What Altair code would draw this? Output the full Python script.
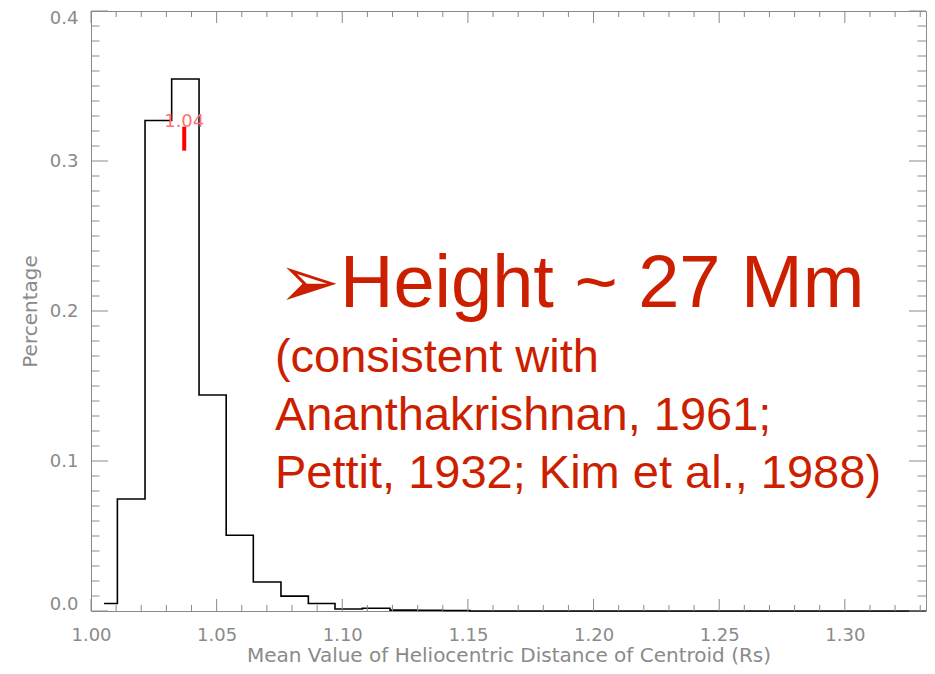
import altair as alt
import pandas as pd

# Histogram (step line): left edges of each step and the value held until the next edge
edges = [1.0052, 1.0105, 1.0215, 1.0321, 1.0430, 1.0538, 1.0646, 1.0756,
         1.0865, 1.0971, 1.1080, 1.1190, 1.1296, 1.1402, 1.1508, 1.3323]
values = [0.0050, 0.0747, 0.3270, 0.3547, 0.1440, 0.0505, 0.0193, 0.0099,
          0.0050, 0.0013, 0.0018, 0.0006, 0.0005, 0.0003, 0.0, 0.0]

# Axis ticks / labels
x_major = [1.00, 1.05, 1.10, 1.15, 1.20, 1.25, 1.30]
x_minor = [1.01, 1.02, 1.03, 1.04, 1.06, 1.07, 1.08, 1.09, 1.11, 1.12, 1.13, 1.14,
           1.16, 1.17, 1.18, 1.19, 1.21, 1.22, 1.23, 1.24, 1.26, 1.27, 1.28, 1.29,
           1.31, 1.32, 1.33]
y_major = [0.0, 0.1, 0.2, 0.3, 0.4]
y_minor = [v / 100 for v in range(1, 40) if v % 10]

# Mean marker
mean_x = [1.0371]
mean_y = [0.3069]
mean_y2 = [0.3229]
mean_label = ["1.04"]

# Annotation text
head_text = ["➢Height ~ 27 Mm"]
head_x = [1.0744]
head_y = [0.2027]
body_text = ["(consistent with", "Ananthakrishnan, 1961;", "Pettit, 1932; Kim et al., 1988)"]
body_x = [1.0732, 1.0732, 1.0732]
body_y = [0.1593, 0.1207, 0.0820]

W, H = 835, 600
GRAY = "#8a8a8a"
RED = "#cc1f00"

xs = alt.Scale(domain=[1.0, 1.3323], nice=False, zero=False)
ys = alt.Scale(domain=[0.0, 0.4], nice=False, zero=False)

hist_df = pd.DataFrame({"x": edges, "y": values})

base_axes = alt.Chart(hist_df).mark_line(
    interpolate="step-after", color="black", strokeWidth=1.6
).encode(
    x=alt.X("x:Q", scale=xs,
            axis=alt.Axis(values=x_major, format=".2f", domain=False, ticks=False, tickSize=0,
                          grid=False, labelPadding=15, labelFontSize=18, labelColor=GRAY,
                          labelFont="DejaVu Sans", labelFlush=False,
                          title="Mean Value of Heliocentric Distance of Centroid (Rs)",
                          titleFont="DejaVu Sans", titleFontSize=20, titleFontWeight="normal",
                          titleColor=GRAY, titleY=50, titleBaseline="alphabetic")),
    y=alt.Y("y:Q", scale=ys,
            axis=alt.Axis(values=y_major, format=".1f", domain=False, ticks=False, tickSize=0,
                          grid=False, labelPadding=13, labelFontSize=18, labelColor=GRAY,
                          labelFont="DejaVu Sans", labelFlush=True, labelFlushOffset=2,
                          title="Percentage",
                          titleFont="DejaVu Sans", titleFontSize=20, titleFontWeight="normal",
                          titleColor=GRAY, titlePadding=9)),
)

xmaj_df = pd.DataFrame({"x": x_major})
xmin_df = pd.DataFrame({"x": x_minor})
ymaj_df = pd.DataFrame({"y": y_major})
ymin_df = pd.DataFrame({"y": y_minor})

def xticks(df, length):
    bottom = alt.Chart(df).mark_rule(color=GRAY, strokeWidth=1).encode(
        x=alt.X("x:Q", scale=xs), y=alt.value(H), y2=alt.value(H - length))
    top = alt.Chart(df).mark_rule(color=GRAY, strokeWidth=1).encode(
        x=alt.X("x:Q", scale=xs), y=alt.value(0), y2=alt.value(length))
    return [bottom, top]

def yticks(df, length):
    left = alt.Chart(df).mark_rule(color=GRAY, strokeWidth=1).encode(
        y=alt.Y("y:Q", scale=ys), x=alt.value(0), x2=alt.value(length))
    right = alt.Chart(df).mark_rule(color=GRAY, strokeWidth=1).encode(
        y=alt.Y("y:Q", scale=ys), x=alt.value(W), x2=alt.value(W - length))
    return [left, right]

tick_layers = (xticks(xmaj_df, 12) + xticks(xmin_df, 6)
               + yticks(ymaj_df, 17) + yticks(ymin_df, 8.5))

mean_df = pd.DataFrame({"x": mean_x, "y": mean_y, "y2": mean_y2, "label": mean_label})
mean_rule = alt.Chart(mean_df).mark_rule(color="#ff0000", strokeWidth=4).encode(
    x=alt.X("x:Q", scale=xs), y=alt.Y("y:Q", scale=ys), y2="y2:Q")
mean_text = alt.Chart(mean_df).mark_text(
    color="#ff7070", fontSize=18, font="DejaVu Sans", align="center", baseline="alphabetic"
).encode(x=alt.X("x:Q", scale=xs), y=alt.Y("y2:Q", scale=ys), text="label:N")

head_df = pd.DataFrame({"x": head_x, "y": head_y, "t": head_text})
head = alt.Chart(head_df).mark_text(
    color=RED, fontSize=74, font="Liberation Sans", align="left", baseline="alphabetic"
).encode(x=alt.X("x:Q", scale=xs), y=alt.Y("y:Q", scale=ys), text="t:N")

body_df = pd.DataFrame({"x": body_x, "y": body_y, "t": body_text})
body = alt.Chart(body_df).mark_text(
    color=RED, fontSize=47, font="Liberation Sans", align="left", baseline="alphabetic"
).encode(x=alt.X("x:Q", scale=xs), y=alt.Y("y:Q", scale=ys), text="t:N")

chart = alt.layer(base_axes, *tick_layers, mean_rule, mean_text, head, body).properties(
    width=W, height=H,
    autosize=alt.AutoSizeParams(type="none"),
    padding={"left": 83, "top": 3, "right": 1, "bottom": 55},
    background="white",
).configure_view(stroke=GRAY, strokeWidth=1)

chart.save("out.html", embed_options={"renderer": "svg", "actions": False})
